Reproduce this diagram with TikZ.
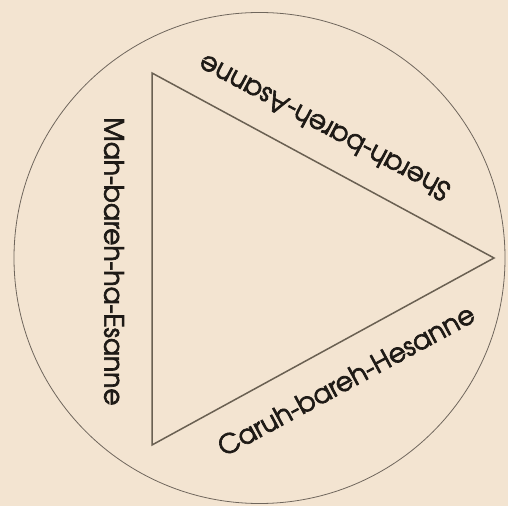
\documentclass[tikz,border=0pt]{standalone}
\usepackage{fontspec}
\setmainfont[FakeBold=2.5]{TeX Gyre Adventor}
\definecolor{bg}{HTML}{F3E4D1}
\definecolor{triline}{HTML}{6A6052}
\definecolor{ringline}{HTML}{6F665C}
\definecolor{ink}{HTML}{1E1A16}
\begin{document}
\begin{tikzpicture}[x=1pt,y=1pt,
  lab/.style={text=ink, inner sep=0pt, font=\fontsize{26.5}{28}\selectfont},
  tri/.style={draw=triline, line width=1.5pt, line join=miter},
  ring/.style={draw=ringline, line width=0.8pt}]
\fill[bg] (0,0) rectangle (508,506);
\useasboundingbox (0,0) rectangle (508,506);
\coordinate (O) at (259.5,248);
\draw[ring] (O) circle (245.5);
\coordinate (A) at (152,433);
\coordinate (B) at (494,248);
\coordinate (C) at (152,61);
\draw[tri] (A) -- (B) -- (C) -- cycle;
\node[lab, rotate=152] (top) at (324,378) {Sherah-bareh-Asanne};
\node[lab, rotate=-90] (left) at (114,244.5) {Mah-bareh-ha-Esanne};
\node[lab, rotate=28.4] (bottom) at (346,126) {Caruh-bareh-Hesanne};
\end{tikzpicture}
\end{document}
